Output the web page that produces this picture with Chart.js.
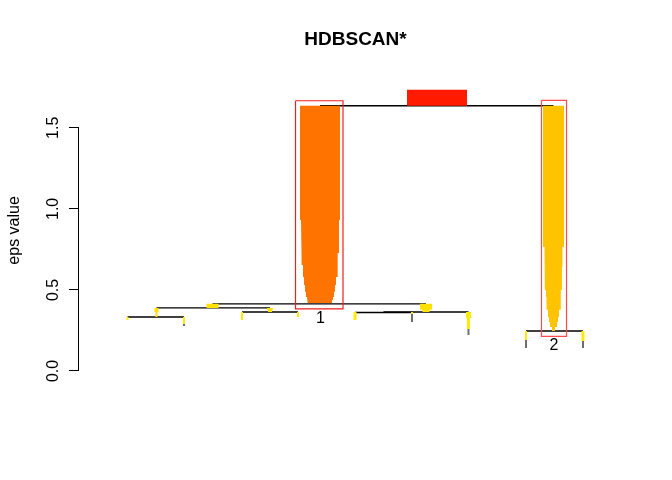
<!DOCTYPE html>
<html><head><meta charset="utf-8">
<script src="https://cdn.jsdelivr.net/npm/chart.js@4"></script>
<style>html,body{margin:0;padding:0;background:#fff}</style>
</head><body>
<canvas id="c" width="672" height="480"></canvas>
<script>
// ---- data (x: position along the tree, 0–100; y: eps value) ----
const yTicks = [0, 0.5, 1.0, 1.5];
const clusterLabels = ['1', '2'];

const rootX = 64.74;
const rootEps = [1.735, 1.636];
const rootWidth = [10.85];

const cluster1X = 43.58;
const cluster1Eps = [1.636, 0.932, 0.728, 0.654, 0.580, 0.531, 0.488, 0.457, 0.438, 0.420];
const cluster1Width = [7.23, 6.87, 6.51, 6.15, 5.79, 5.42, 5.06, 4.70, 4.34];

const cluster2X = 85.80;
const cluster2Eps = [1.636, 0.765, 0.642, 0.500, 0.457, 0.377, 0.333, 0.302, 0.272, 0.247];
const cluster2Width = [3.80, 3.25, 3.07, 2.71, 2.53, 1.99, 1.63, 1.27, 0.54];

const subNodeX = [24.14, 62.75, 14.01, 34.54];
const subNodeEps = [[0.414, 0.389], [0.414, 0.377, 0.364], [0.389, 0.364, 0.333], [0.389, 0.377, 0.364]];
const subNodeWidth = [[2.17], [2.17, 1.27], [0.72, 0.36], [1.08, 0.72]];

const leafX = [8.77, 18.99, 29.48, 39.60, 49.91, 60.22, 70.43, 80.83, 91.14];
const leafEps = [[0.333, 0.315], [0.333, 0.290], [0.364, 0.315], [0.364, 0.333], [0.364, 0.315], [0.364, 0.352], [0.364, 0.327, 0.259], [0.247, 0.191], [0.247, 0.185]];
const leafWidth = [[0.36], [0.36], [0.36], [0.36], [0.54], [0.36], [0.90, 0.54], [0.36], [0.54]];

const tailX = [18.99, 60.22, 70.43, 80.83, 91.14];
const tailTop = [0.290, 0.352, 0.259, 0.191, 0.185];
const tailBottom = [0.278, 0.302, 0.222, 0.142, 0.142];

const splitEps = [1.636, 0.414, 0.389, 0.333, 0.364, 0.364, 0.361, 0.247];
const splitFrom = [43.58, 24.14, 14.01, 8.77, 29.48, 55.06, 49.91, 80.83];
const splitTo = [85.80, 62.75, 34.54, 18.99, 39.60, 70.43, 60.22, 91.14];

const boxLeft = [39.15, 83.63];
const boxRight = [47.74, 88.16];
const boxTop = [1.667, 1.670];
const boxBottom = [0.383, 0.213];
const labelX = [43.67, 85.90];
const labelEps = [0.321, 0.154];

// ---- styling ----
const FONT = '"Liberation Sans", Arial, Helvetica, sans-serif';
const COL = {root: '#FF1A00', c1: '#FF7300', c2: '#FFC300', sub: '#FFE100', leaf: '#FFEC00', tail: '#6E6E6E', box: ['#F01E1E', '#FF4A4A']};

function icicle(cx, eps, widths) {
  const pts = [];
  for (let i = 0; i < widths.length; i++) {
    pts.push({x: cx - widths[i] / 2, y: eps[i]}, {x: cx - widths[i] / 2, y: eps[i + 1]});
  }
  for (let i = widths.length - 1; i >= 0; i--) {
    pts.push({x: cx + widths[i] / 2, y: eps[i + 1]}, {x: cx + widths[i] / 2, y: eps[i]});
  }
  return pts;
}
function shapeDs(pts, color) {
  return {data: pts, fill: 'shape', backgroundColor: color, borderColor: 'rgba(0,0,0,0)', borderWidth: 0, pointRadius: 0, order: 1};
}
function lineDs(pts, color, w, order) {
  return {data: pts, fill: false, borderColor: color, borderWidth: w, pointRadius: 0, order: order};
}

const datasets = [];
// red boxes round selected clusters (on top)
for (let i = 0; i < boxLeft.length; i++) {
  datasets.push(lineDs([
    {x: boxLeft[i], y: boxTop[i]}, {x: boxRight[i], y: boxTop[i]},
    {x: boxRight[i], y: boxBottom[i]}, {x: boxLeft[i], y: boxBottom[i]},
    {x: boxLeft[i], y: boxTop[i]}], COL.box[i], 1.2, 0));
}
// icicles
datasets.push(shapeDs(icicle(rootX, rootEps, rootWidth), COL.root));
datasets.push(shapeDs(icicle(cluster1X, cluster1Eps, cluster1Width), COL.c1));
datasets.push(shapeDs(icicle(cluster2X, cluster2Eps, cluster2Width), COL.c2));
for (let i = 0; i < subNodeX.length; i++) datasets.push(shapeDs(icicle(subNodeX[i], subNodeEps[i], subNodeWidth[i]), COL.sub));
for (let i = 0; i < leafX.length; i++) datasets.push(shapeDs(icicle(leafX[i], leafEps[i], leafWidth[i]), COL.leaf));
// grey tails
for (let i = 0; i < tailX.length; i++) datasets.push(lineDs([{x: tailX[i], y: tailTop[i]}, {x: tailX[i], y: tailBottom[i]}], COL.tail, 2, 2));
// split lines
for (let i = 0; i < splitEps.length; i++) datasets.push(lineDs([{x: splitFrom[i], y: splitEps[i]}, {x: splitTo[i], y: splitEps[i]}], '#000', 1.4, 2));

const axisLine = {
  id: 'axisLine',
  afterDatasetsDraw(chart) {
    const {ctx, scales: {x, y}} = chart;
    const px = Math.round(chart.chartArea.left) - 0.5;
    ctx.save();
    ctx.strokeStyle = '#000'; ctx.lineWidth = 1;
    ctx.beginPath();
    ctx.moveTo(px, y.getPixelForValue(yTicks[0]));
    ctx.lineTo(px, y.getPixelForValue(yTicks[yTicks.length - 1]));
    ctx.stroke();
    // cluster labels
    ctx.fillStyle = '#000';
    ctx.font = '16px ' + FONT;
    ctx.textAlign = 'center'; ctx.textBaseline = 'middle';
    for (let i = 0; i < clusterLabels.length; i++) {
      ctx.fillText(clusterLabels[i], x.getPixelForValue(labelX[i]), y.getPixelForValue(labelEps[i]));
    }
    ctx.restore();
  }
};

new Chart(document.getElementById('c'), {
  type: 'line',
  data: {datasets},
  plugins: [axisLine],
  options: {
    responsive: false, animation: false, devicePixelRatio: 1,
    layout: {padding: {left: 0, right: 40, top: 0, bottom: 98}},
    plugins: {
      legend: {display: false}, tooltip: {enabled: false},
      title: {display: true, text: 'HDBSCAN*', fullSize: false, color: '#000',
        font: {family: FONT, size: 19, weight: 'bold'}, padding: {top: 28, bottom: 28}}
    },
    scales: {
      x: {type: 'linear', min: 0, max: 100, display: false},
      y: {type: 'linear', position: 'left', min: -0.068, max: 1.8025,
        afterFit(s) { s.width = 79; },
        afterBuildTicks(s) { s.ticks = yTicks.map(v => ({value: v})); },
        border: {display: false},
        grid: {drawOnChartArea: false, drawTicks: true, tickLength: 10, color: '#000'},
        ticks: {color: '#000', font: {family: FONT, size: 16}, minRotation: 90, maxRotation: 90,
          crossAlign: 'center', padding: 4, callback: v => Number(v).toFixed(1)},
        title: {display: true, text: 'eps value', color: '#000', font: {family: FONT, size: 16}, padding: {top: 5, bottom: 0}}
      }
    }
  }
});
</script>
</body></html>
